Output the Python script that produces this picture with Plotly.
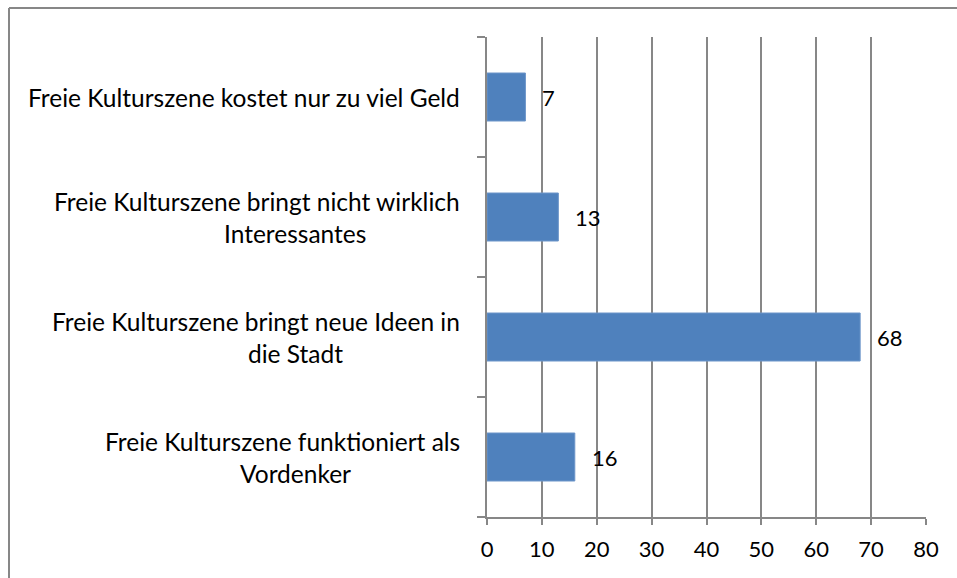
import plotly.graph_objects as go

# Survey answers, listed top to bottom
categories = [
    "Freie Kulturszene kostet nur zu viel Geld",
    "Freie Kulturszene bringt nicht wirklich Interessantes",
    "Freie Kulturszene bringt neue Ideen in die Stadt",
    "Freie Kulturszene funktioniert als Vordenker",
]
label_lines = [
    ["Freie Kulturszene kostet nur zu viel Geld"],
    ["Freie Kulturszene bringt nicht wirklich", "Interessantes"],
    ["Freie Kulturszene bringt neue Ideen in", "die Stadt"],
    ["Freie Kulturszene funktioniert als", "Vordenker"],
]
values = [7, 13, 68, 16]
x_ticks = [0, 10, 20, 30, 40, 50, 60, 70, 80]

W, H = 957, 578
ML, MR, MT, MB = 487, 31, 37, 61
PW, PH = W - ML - MR, H - MT - MB

FONT = "Lato, 'Open Sans', sans-serif"
GRID = "#878787"

fig = go.Figure(
    go.Bar(
        x=values,
        y=categories,
        orientation="h",
        width=0.4,
        marker=dict(color="#4F81BD", line=dict(color="#6C95C9", width=1)),
        hoverinfo="skip",
    )
)

annotations = []
# value labels just right of each bar end
for cat, v in zip(categories, values):
    annotations.append(dict(
        x=v, y=cat, xref="x", yref="y", text=str(v), showarrow=False,
        xanchor="left", yanchor="middle", xshift=15,
        font=dict(family=FONT, size=22, color="#000000"),
    ))
# category labels, wrapped like the original layout
for cat, lines in zip(categories, label_lines):
    if len(lines) == 1:
        annotations.append(dict(
            x=0, y=cat, xref="paper", yref="y", text=lines[0], showarrow=False,
            xanchor="right", yanchor="middle", xshift=-25,
            font=dict(family=FONT, size=24.5, color="#000000"),
        ))
    else:
        annotations.append(dict(
            x=0, y=cat, xref="paper", yref="y", text=lines[0], showarrow=False,
            xanchor="right", yanchor="middle", xshift=-25, yshift=16,
            font=dict(family=FONT, size=24.5, color="#000000"),
        ))
        annotations.append(dict(
            x=0, y=cat, xref="paper", yref="y", text=lines[1], showarrow=False,
            xanchor="center", yanchor="middle", xshift=-192, yshift=-16,
            font=dict(family=FONT, size=24.5, color="#000000"),
        ))

# outer chart frame (left and top edges)
fx = (9 - ML) / PW
fy = 1 + (MT - 8) / PH
shapes = [
    dict(type="line", xref="paper", yref="paper", x0=fx, x1=fx, y0=fy, y1=-1,
         line=dict(color=GRID, width=2)),
    dict(type="line", xref="paper", yref="paper", x0=fx, x1=2, y0=fy, y1=fy,
         line=dict(color=GRID, width=2)),
]

fig.update_layout(
    width=W, height=H,
    margin=dict(l=ML, r=MR, t=MT, b=MB),
    paper_bgcolor="white", plot_bgcolor="white",
    showlegend=False,
    bargap=0.6,
    annotations=annotations,
    shapes=shapes,
    xaxis=dict(
        range=[0, 80], tickvals=x_ticks, ticktext=[str(t) for t in x_ticks],
        showgrid=True, gridcolor=GRID, gridwidth=2,
        showline=True, linecolor=GRID, linewidth=2,
        ticks="outside", ticklen=6, tickcolor=GRID, tickwidth=2,
        ticklabelstandoff=6,
        tickfont=dict(family=FONT, size=22, color="#000000"),
        zeroline=False, fixedrange=True,
    ),
    yaxis=dict(
        categoryorder="array", categoryarray=categories[::-1],
        showticklabels=False, showgrid=False,
        showline=True, linecolor=GRID, linewidth=2,
        ticks="outside", ticklen=8, tickcolor=GRID, tickwidth=2,
        tickson="boundaries", zeroline=False, fixedrange=True,
    ),
)

fig.write_html("out.html", config={"displayModeBar": False})
